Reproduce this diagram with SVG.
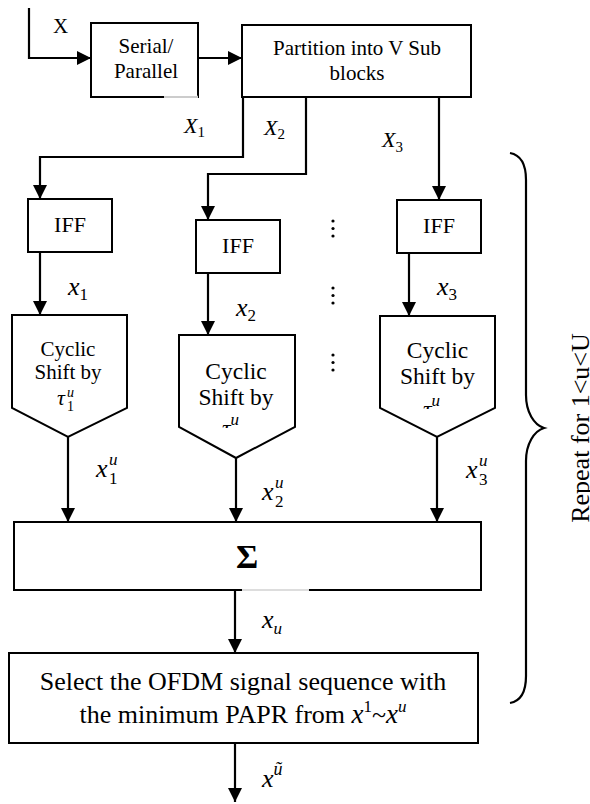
<svg xmlns="http://www.w3.org/2000/svg" width="590" height="804" viewBox="0 0 590 804">
<style>
.box{fill:#fff;stroke:#000;stroke-width:2}
.ln{fill:none;stroke:#000;stroke-width:2.2}
.t{font-family:"Liberation Serif","Times New Roman",serif;fill:#000}
.m{font-family:"Liberation Serif","Times New Roman",serif;font-style:italic;fill:#000}
.up{font-style:normal}
.c{text-anchor:middle}
</style>
<defs>
<marker id="ah" markerUnits="userSpaceOnUse" markerWidth="14" markerHeight="14" refX="14" refY="7" orient="auto">
<path d="M0,0 L14,7 L0,14 z" fill="#000"/>
</marker>
<clipPath id="clip2"><rect x="179" y="335" width="116" height="93"/></clipPath>
<clipPath id="clip3"><rect x="380" y="316" width="115" height="93"/></clipPath>
</defs>

<g id="connectors">
<polyline class="ln" points="29,8 29,58 91,58" marker-end="url(#ah)"/>
<line class="ln" x1="198" y1="58" x2="242" y2="58" marker-end="url(#ah)"/>
<polyline class="ln" points="243,97 243,157 40,157 40,199" marker-end="url(#ah)"/>
<polyline class="ln" points="306,97 306,174 208,174 208,220" marker-end="url(#ah)"/>
<line class="ln" x1="439" y1="97" x2="439" y2="200" marker-end="url(#ah)"/>
<line class="ln" x1="40" y1="252" x2="40" y2="315" marker-end="url(#ah)"/>
<line class="ln" x1="208" y1="273" x2="208" y2="335" marker-end="url(#ah)"/>
<line class="ln" x1="409" y1="253" x2="409" y2="316" marker-end="url(#ah)"/>
<line class="ln" x1="68" y1="437" x2="68" y2="522" marker-end="url(#ah)"/>
<line class="ln" x1="236" y1="458" x2="236" y2="522" marker-end="url(#ah)"/>
<line class="ln" x1="437" y1="437" x2="437" y2="522" marker-end="url(#ah)"/>
<line class="ln" x1="235" y1="590" x2="235" y2="653" marker-end="url(#ah)"/>
<line class="ln" x1="235" y1="743" x2="235" y2="802" marker-end="url(#ah)"/>
</g>

<g id="labels">
<text class="t" x="53" y="33" font-size="21">X</text>
<text class="m" x="184" y="133" font-size="22">X<tspan class="up" font-size="15" dy="4">1</tspan></text>
<text class="m" x="264" y="135" font-size="22">X<tspan class="up" font-size="15" dy="4">2</tspan></text>
<text class="m" x="382" y="147" font-size="22">X<tspan class="up" font-size="15" dy="5">3</tspan></text>
<text class="m" x="68" y="295" font-size="26">x<tspan class="up" font-size="17" dy="5">1</tspan></text>
<text class="m" x="236" y="316" font-size="26">x<tspan class="up" font-size="17" dy="5">2</tspan></text>
<text class="m" x="437" y="295" font-size="26">x<tspan class="up" font-size="17" dy="5">3</tspan></text>
<text class="m" x="96" y="477" font-size="26">x</text>
<text class="m" x="109" y="465" font-size="17">u</text>
<text class="t" x="109" y="484" font-size="17">1</text>
<text class="m" x="262" y="500" font-size="26">x</text>
<text class="m" x="275" y="488" font-size="17">u</text>
<text class="t" x="275" y="507" font-size="17">2</text>
<text class="m" x="466" y="478" font-size="26">x</text>
<text class="m" x="479" y="466" font-size="17">u</text>
<text class="t" x="479" y="485" font-size="17">3</text>
<text class="m" x="262" y="628" font-size="26">x<tspan font-size="17" dy="6">u</tspan></text>
<text class="m" x="262" y="787" font-size="26">x<tspan font-size="18" dy="-12">ũ</tspan></text>
<g id="dots" fill="#000">
<circle cx="333" cy="221" r="1.6"/><circle cx="333" cy="228.5" r="1.6"/><circle cx="333" cy="236" r="1.6"/>
<circle cx="333" cy="288" r="1.6"/><circle cx="333" cy="295.5" r="1.6"/><circle cx="333" cy="303" r="1.6"/>
<circle cx="333" cy="355" r="1.6"/><circle cx="333" cy="362.5" r="1.6"/><circle cx="333" cy="370" r="1.6"/>
</g>
</g>

<g id="serial">
<rect class="box" x="91" y="23" width="107" height="74"/>
<line x1="164" y1="97" x2="198" y2="97" stroke="#fff" stroke-width="2.5"/>
<line x1="164" y1="97" x2="198" y2="97" stroke="#999" stroke-width="1"/>
<text class="t c" x="146" y="53" font-size="21">Serial/</text>
<text class="t c" x="146" y="78" font-size="21">Parallel</text>
</g>

<g id="partition">
<rect class="box" x="242" y="25" width="229" height="72"/>
<text class="t c" x="357" y="55" font-size="21">Partition into V Sub</text>
<text class="t c" x="357" y="80" font-size="21">blocks</text>
</g>

<g id="iff1">
<rect class="box" x="28" y="199" width="84" height="53"/>
<text class="t c" x="70" y="232" font-size="22">IFF</text>
</g>
<g id="iff2">
<rect class="box" x="196" y="220" width="84" height="53"/>
<text class="t c" x="238" y="253" font-size="22">IFF</text>
</g>
<g id="iff3">
<rect class="box" x="397" y="200" width="84" height="53"/>
<text class="t c" x="439" y="233" font-size="22">IFF</text>
</g>

<g id="cyclic1">
<polygon class="box" points="12,315 127,315 127,408 68,437 12,408"/>
<text class="t c" x="68" y="356" font-size="21">Cyclic</text>
<text class="t c" x="68" y="379" font-size="21">Shift by</text>
<text class="m" x="57" y="405" font-size="22">τ</text>
<text class="m" x="67" y="397" font-size="14">u</text>
<text class="t" x="67" y="411" font-size="14">1</text>
</g>
<g id="cyclic2">
<polygon class="box" points="179,335 295,335 295,427 236,458 179,427"/>
<g clip-path="url(#clip2)">
<text class="t c" x="236" y="379" font-size="23.5">Cyclic</text>
<text class="t c" x="236" y="405" font-size="23.5">Shift by</text>
<text class="m" x="222" y="436" font-size="24">τ<tspan font-size="17" dy="-11">u</tspan></text>
</g>
</g>
<g id="cyclic3">
<polygon class="box" points="380,316 495,316 495,408 437,437 380,408"/>
<g clip-path="url(#clip3)">
<text class="t c" x="437.5" y="358" font-size="23.5">Cyclic</text>
<text class="t c" x="437.5" y="384" font-size="23.5">Shift by</text>
<text class="m" x="423" y="417" font-size="24">τ<tspan font-size="17" dy="-11">u</tspan></text>
</g>
</g>

<g id="sum">
<rect class="box" x="14" y="522" width="467" height="68"/>
<line x1="242" y1="590" x2="309" y2="590" stroke="#fff" stroke-width="2.5"/>
<line x1="242" y1="590" x2="309" y2="590" stroke="#bbb" stroke-width="1"/>
<text class="t c" x="247" y="568" font-size="34" font-weight="bold">Σ</text>
</g>

<g id="select">
<rect class="box" x="9" y="653" width="469" height="90"/>
<text class="t c" x="243" y="690" font-size="26">Select the OFDM signal sequence with</text>
<text class="t c" x="243" y="723" font-size="26">the minimum PAPR from <tspan font-style="italic" font-size="27">x</tspan><tspan font-size="17" dy="-11">1</tspan><tspan dy="11">~</tspan><tspan font-style="italic" font-size="27">x</tspan><tspan font-style="italic" font-size="17" dy="-11">u</tspan></text>
</g>

<g id="repeat">
<path class="ln" d="M510,153 C521,155 526,165 526,180 L526,395 C526,412 534,425 544,428 C534,431 526,444 526,461 L526,676 C526,691 521,701 510,703"/>
<text class="t c" font-size="26" transform="translate(589,428) rotate(-90)">Repeat for 1&lt;u&lt;U</text>
</g>
</svg>
